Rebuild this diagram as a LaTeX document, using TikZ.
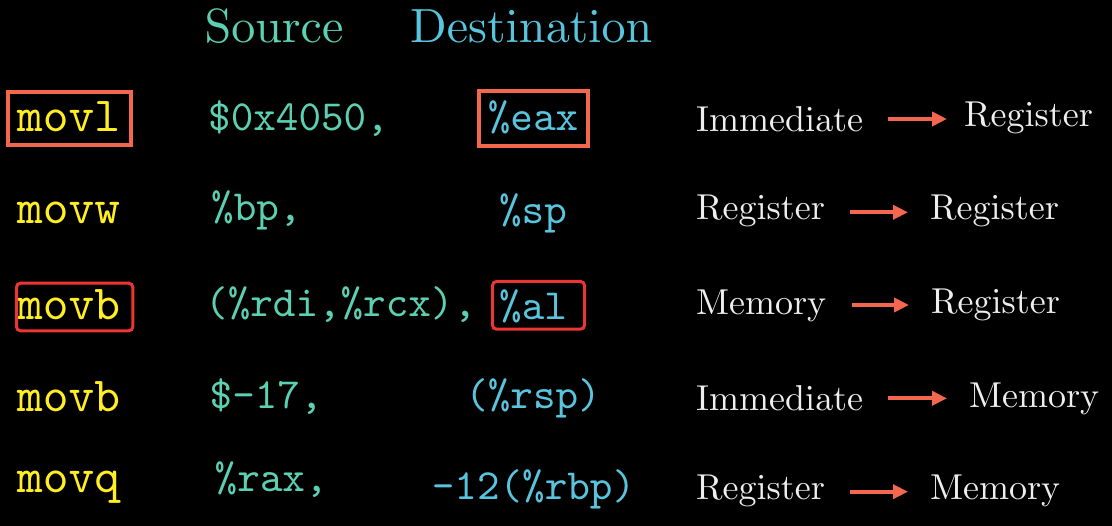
\documentclass[tikz,border=0pt]{standalone}
\usetikzlibrary{arrows.meta}
\font\hdrfont=cmr10 at 48pt
\font\descfont=cmr10 at 36pt
\font\mnfont=cmtt10 at 49pt
\font\opfont=cmtt10 at 43pt
\newcommand\dol{\char36 }
\newcommand\pct{\char37 }
\definecolor{srcteal}{HTML}{5CD0B3}
\definecolor{dstblue}{HTML}{58C4DD}
\definecolor{mnyellow}{HTML}{FFEE22}
\definecolor{salmon}{HTML}{F4674F}
\definecolor{hlred}{HTML}{EE3536}
\definecolor{desctext}{HTML}{EEEEEE}
\tikzset{
  hdr/.style={font=\hdrfont, anchor=base west, inner sep=0pt},
  mn/.style={font=\mnfont, text=mnyellow, anchor=base west, inner sep=0pt},
  src/.style={font=\opfont, text=srcteal, anchor=base west, inner sep=0pt},
  dst/.style={font=\opfont, text=dstblue, anchor=base, inner sep=0pt},
  desc/.style={font=\descfont, text=desctext, anchor=base west, inner sep=0pt},
  arr/.style={draw=salmon, line width=4pt, -{Triangle[length=15pt,width=14pt]}},
  boxA/.style={draw=salmon, line width=4pt, inner sep=0pt},
  boxB/.style={draw=hlred, line width=3pt, rounded corners=4pt, inner sep=0pt}
}
\begin{document}
\begin{tikzpicture}[x=1pt,y=-1pt]
\fill[black] (0,0) rectangle (1112,526);
\useasboundingbox (0,0) rectangle (1112,526);
% headers
\node[hdr, text=srcteal] (hs) at (204.5,42.7) {Source};
\node[hdr, text=dstblue] (hd) at (410,42.7) {Destination};
% mnemonics
\node[mn] (m1) at (17,131.7) {movl};
\node[mn] (m2) at (17,223.3) {movw};
\node[mn] (m3) at (17,320) {movb};
\node[mn] (m4) at (17,411.7) {movb};
\node[mn] (m5) at (17,492.7) {movq};
% sources
\node[src] (s1) at (208,130.7) {\dol0x4050,};
\node[src] (s2) at (211,221) {\pct bp,};
\node[src] (s3) at (205,316.7) {(\pct rdi,\pct rcx),};
\node[src] (s4) at (209.5,408.3) {\dol-17,};
\node[src] (s5) at (214.5,491.7) {\pct rax,};
% destinations
\node[dst] (d1) at (533,130.7) {\pct eax};
\node[dst] (d2) at (533,223.3) {\pct sp};
\node[dst] (d3) at (533,320) {\pct al};
\node[dst] (d4) at (533,408.3) {(\pct rsp)};
\node[dst] (d5) at (533.5,500) {-12(\pct rbp)};
% highlight boxes
\node[boxA, minimum width=122.7pt, minimum height=52.7pt] (bm1) at (69.35,118.35) {};
\node[boxA, minimum width=109.3pt, minimum height=55pt] (bd1) at (533.35,118.8) {};
\node[boxB, minimum width=116.3pt, minimum height=47.6pt] (bm3) at (74.65,307) {};
\node[boxB, minimum width=92pt, minimum height=47.7pt] (bd3) at (538.5,305.35) {};
% descriptions
\node[desc] (l1) at (696,131.7) {Immediate};
\node[desc] (r1) at (964,126.7) {Register};
\node[desc] (l2) at (696,220) {Register};
\node[desc] (r2) at (930,220) {Register};
\node[desc] (l3) at (696,314.3) {Memory};
\node[desc] (r3) at (931,314) {Register};
\node[desc] (l4) at (696,411) {Immediate};
\node[desc] (r4) at (969,407.3) {Memory};
\node[desc] (l5) at (696,500) {Register};
\node[desc] (r5) at (930,500) {Memory};
% arrows
\coordinate (a1s) at (888,119);   \coordinate (a1e) at (947,119);
\coordinate (a2s) at (850,212.3); \coordinate (a2e) at (908,212.3);
\coordinate (a3s) at (851.7,305); \coordinate (a3e) at (909,305);
\coordinate (a4s) at (888,398.3); \coordinate (a4e) at (947,398.3);
\coordinate (a5s) at (850,491.7); \coordinate (a5e) at (908,491.7);
\draw[arr] (a1s) -- (a1e);
\draw[arr] (a2s) -- (a2e);
\draw[arr] (a3s) -- (a3e);
\draw[arr] (a4s) -- (a4e);
\draw[arr] (a5s) -- (a5e);
\end{tikzpicture}
\end{document}
